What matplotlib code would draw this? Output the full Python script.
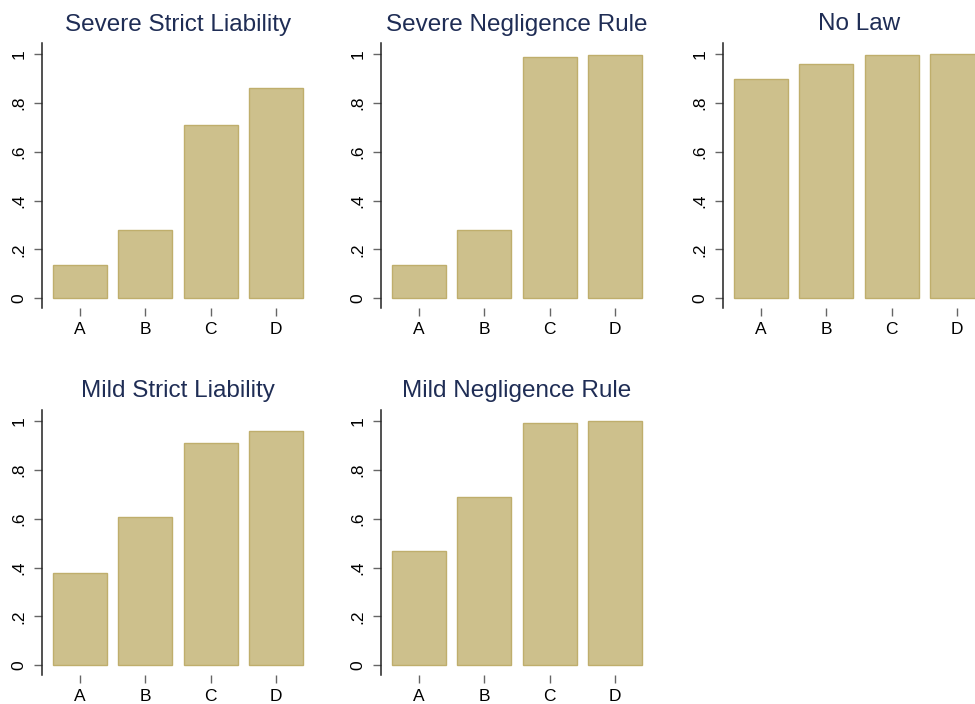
import matplotlib
matplotlib.use('Agg')
import matplotlib.pyplot as plt
import numpy as np

plt.rcParams['font.family'] = ['Liberation Sans', 'DejaVu Sans']

# data
categories = ["A", "B", "C", "D"]
titles = ["Severe Strict Liability", "Severe Negligence Rule", "No Law",
          "Mild Strict Liability", "Mild Negligence Rule"]
severe_strict = [0.135, 0.281, 0.711, 0.862]
severe_negligence = [0.135, 0.281, 0.988, 0.996]
no_law = [0.896, 0.958, 0.995, 0.999]
mild_strict = [0.377, 0.607, 0.908, 0.959]
mild_negligence = [0.466, 0.687, 0.992, 0.999]
series = [severe_strict, severe_negligence, no_law, mild_strict, mild_negligence]
yticks = [0, 0.2, 0.4, 0.6, 0.8, 1.0]
ytick_labels = ["0", ".2", ".4", ".6", ".8", "1"]

W, H = 975, 704
fig = plt.figure(figsize=(W / 100, H / 100), dpi=100)

# panel placement in pixels: (left, top, right, bottom)
col_left = [42, 381, 723]
row_box = [(43, 308), (410, 675)]
panel_w = 272

bar_color = "#cdc08c"
edge_color = "#bfae6c"
title_color = "#1f2d55"

for k, (title, vals) in enumerate(zip(titles, series)):
    r, c = divmod(k, 3)
    left = col_left[c]
    top, bottom = row_box[r]
    ax = fig.add_axes([left / W, (H - bottom) / H, panel_w / W, (bottom - top) / H])
    x = np.arange(1, len(categories) + 1)
    ax.bar(x, vals, width=0.825, color=bar_color, edgecolor=edge_color, linewidth=1)
    ax.set_xlim(0.42, 4.58)
    ax.set_ylim(-0.04, 1.045)
    ax.set_xticks(x)
    ax.set_xticklabels(categories, fontsize=12.5)
    ax.set_yticks(yticks)
    ax.set_yticklabels(ytick_labels, fontsize=12.5, rotation=90, va='center')
    ax.tick_params(axis='x', length=6, width=1, color='#666666', pad=4)
    ax.tick_params(axis='y', length=6, width=1, color='#666666', pad=5)
    for s in ['top', 'right', 'bottom']:
        ax.spines[s].set_visible(False)
    ax.spines['left'].set_color('#222222')
    ax.spines['left'].set_linewidth(1.1)
    ax.set_title(title, fontsize=17.5, color=title_color, pad=9)

fig.savefig("out.png", dpi=100)
